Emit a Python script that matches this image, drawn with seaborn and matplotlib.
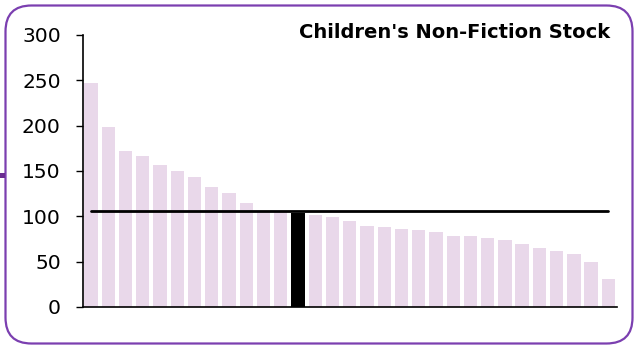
import matplotlib
matplotlib.use("Agg")
import matplotlib.pyplot as plt
import seaborn as sns
from matplotlib.patches import FancyBboxPatch, Rectangle

# Data
categories = [str(i) for i in range(1, 32)]
stock = [247, 198, 172, 167, 157, 150, 143, 132, 126, 115, 106, 105, 104,
         101, 99, 95, 89, 88, 86, 85, 83, 78, 78, 76.5, 73.5, 69.5, 65, 62,
         59, 50, 31]
highlight_index = 12
average = 105.5
title = "Children's Non-Fiction Stock"
yticks = [0, 50, 100, 150, 200, 250, 300]

sns.set_theme(style="white")
plt.rcParams['font.family'] = ['DejaVu Sans']

W, H = 636, 345
fig = plt.figure(figsize=(W / 100, H / 100), dpi=100)

# Background frame
bg = fig.add_axes([0, 0, 1, 1], zorder=0)
bg.set_xlim(0, W)
bg.set_ylim(H, 0)
bg.axis("off")
bg.add_patch(FancyBboxPatch((5.5, 5.5), 627, 338, boxstyle="round,pad=0,rounding_size=26",
                            facecolor="white", edgecolor="#7B3FB0", linewidth=1.6))
bg.add_patch(Rectangle((0, 173), 5, 5, facecolor="#6A2C91", edgecolor="none"))

ax = fig.add_axes([83 / W, 1 - 307 / H, (617 - 83) / W, (307 - 35) / H], zorder=1)
ax.patch.set_alpha(0)

colors = ["#000000" if i == highlight_index else "#E9D8EA" for i in range(len(categories))]
sns.barplot(x=categories, y=stock, hue=categories, palette=colors, legend=False,
            width=0.77, linewidth=0, saturation=1, ax=ax)

ax.plot([0, len(categories) - 1], [average, average], color="black", linewidth=2, zorder=5)

ax.set_xlim(-0.46, len(categories) - 0.5)
ax.set_ylim(0, 300)
ax.set_yticks(yticks)
ax.set_yticklabels([str(t) for t in yticks], fontsize=14.6, color="black")
ax.set_xticks([])
ax.tick_params(axis="y", length=5, width=1, color="black", left=True, pad=11)
for s in ["top", "right"]:
    ax.spines[s].set_visible(False)
for s in ["left", "bottom"]:
    ax.spines[s].set_color("black")
    ax.spines[s].set_linewidth(1.2)
ax.set_xlabel("")
ax.set_ylabel("")

fig.text(610 / W, 1 - 32 / H, title, ha="right", va="center", fontsize=14,
         fontweight="bold", color="black")

fig.savefig("out.png", dpi=100)
